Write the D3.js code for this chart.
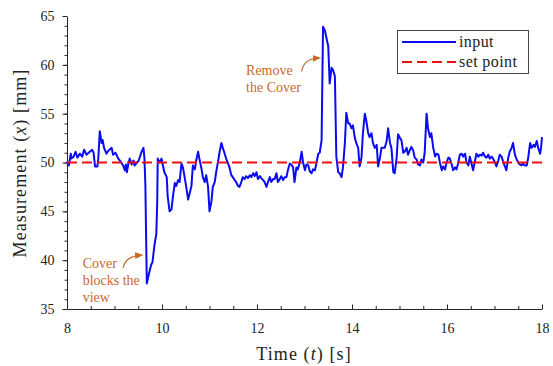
<!DOCTYPE html>
<meta charset="utf-8">
<title>Measurement vs time</title>
<style>
body { margin: 0; background: #fff; }
svg text { font-family: "Liberation Serif", "DejaVu Serif", serif; fill: #222; }
</style>
<svg width="553" height="366"></svg>
<script src="https://d3js.org/d3.v7.min.js"></script>
<script>

// time stamps [s]
var times = [
  8.00,8.04,8.08,8.09,8.14,8.18,8.22,8.27,8.32,8.36,
  8.41,8.48,8.53,8.56,8.59,8.64,8.66,8.69,8.73,8.75,
  8.78,8.83,8.87,8.94,8.97,9.02,9.08,9.13,9.18,9.22,
  9.24,9.26,9.29,9.32,9.36,9.40,9.42,9.46,9.51,9.57,
  9.61,9.63,9.65,9.68,9.72,9.77,9.80,9.84,9.88,9.90,
  9.91,9.95,9.99,10.02,10.05,10.10,10.12,10.16,10.20,10.23,
  10.27,10.30,10.34,10.37,10.41,10.44,10.48,10.51,10.55,10.58,
  10.62,10.65,10.69,10.72,10.76,10.79,10.83,10.86,10.90,10.93,
  10.97,11.00,11.04,11.07,11.11,11.14,11.18,11.21,11.25,11.28,
  11.32,11.35,11.39,11.42,11.46,11.49,11.53,11.56,11.60,11.63,
  11.67,11.70,11.74,11.77,11.81,11.85,11.88,11.92,11.95,11.99,
  12.02,12.06,12.09,12.13,12.16,12.20,12.23,12.27,12.30,12.34,
  12.37,12.41,12.44,12.48,12.51,12.55,12.58,12.62,12.65,12.69,
  12.72,12.76,12.79,12.83,12.86,12.90,12.94,12.97,13.01,13.04,
  13.08,13.11,13.15,13.18,13.22,13.25,13.29,13.32,13.36,13.39,
  13.43,13.46,13.50,13.53,13.57,13.60,13.64,13.67,13.71,13.74,
  13.78,13.81,13.85,13.88,13.92,13.95,13.99,14.02,14.06,14.09,
  14.13,14.16,14.20,14.23,14.27,14.30,14.34,14.37,14.41,14.44,
  14.48,14.52,14.55,14.59,14.62,14.66,14.69,14.73,14.76,14.80,
  14.83,14.87,14.90,14.94,14.97,15.01,15.04,15.08,15.11,15.15,
  15.18,15.22,15.25,15.29,15.32,15.36,15.39,15.43,15.46,15.50,
  15.53,15.57,15.60,15.64,15.67,15.71,15.75,15.78,15.82,15.85,
  15.89,15.92,15.96,15.99,16.03,16.06,16.10,16.13,16.17,16.20,
  16.24,16.27,16.31,16.34,16.38,16.41,16.45,16.48,16.52,16.55,
  16.59,16.62,16.66,16.69,16.73,16.76,16.80,16.83,16.87,16.90,
  16.94,16.97,17.01,17.04,17.08,17.11,17.15,17.18,17.22,17.25,
  17.29,17.32,17.36,17.39,17.43,17.46,17.50,17.53,17.57,17.60,
  17.64,17.68,17.71,17.75,17.78,17.82,17.85,17.89,17.92,17.96,
  17.98,18.00
];

// measured position [mm]
var input = [
  50.1,49.7,50.9,50.4,50.6,51.1,50.5,50.9,50.6,51.3,
  50.8,51.1,51.3,51.0,49.6,49.6,50.5,53.2,52.0,52.3,
  51.5,50.9,51.2,51.5,50.8,51.0,50.4,50.1,49.7,49.2,
  49.8,49.0,49.8,50.4,49.8,50.2,49.7,49.9,50.2,51.1,
  51.5,50.5,47.7,37.6,38.5,39.5,39.8,41.5,42.7,46.0,
  50.4,50.0,50.4,49.7,49.0,48.5,46.5,45.0,45.2,46.5,
  47.9,47.6,48.2,48.0,49.9,49.5,48.4,47.5,46.2,46.8,
  47.6,49.7,49.3,50.2,51.1,50.3,49.4,48.5,48.0,48.7,
  47.5,45.0,46.0,47.5,48.0,49.0,50.1,51.0,52.0,51.5,
  50.9,50.4,49.9,49.5,48.7,48.5,48.2,48.0,47.6,47.5,
  48.0,48.5,48.3,48.6,48.4,48.7,48.5,48.9,48.6,49.0,
  48.3,48.6,48.4,48.2,48.0,47.5,48.0,48.5,48.0,48.3,
  48.3,48.9,48.0,48.3,48.6,48.2,48.5,48.5,49.2,49.9,
  49.8,49.5,48.0,49.5,49.3,50.0,51.1,50.0,49.2,49.8,
  49.7,49.1,48.9,49.3,49.2,49.9,50.9,51.0,52.3,63.9,
  63.5,62.8,61.9,58.1,59.7,59.5,58.8,50.6,49.0,48.9,
  48.5,49.5,52.0,55.1,54.0,54.0,53.5,53.8,52.5,52.0,
  51.5,49.6,50.5,53.0,55.0,54.3,53.0,52.6,53.0,52.0,
  51.5,51.8,49.6,50.5,51.5,51.5,51.5,52.2,53.5,52.0,
  51.5,49.0,48.9,50.5,52.9,52.5,52.3,51.0,51.1,51.5,
  50.8,51.3,51.6,51.2,50.5,50.3,49.8,49.7,50.3,50.0,
  51.0,55.0,53.5,52.6,53.0,51.5,50.6,50.9,50.8,50.0,
  49.2,49.6,49.3,50.0,50.5,50.4,49.8,49.2,49.5,49.3,
  50.0,50.8,50.9,50.6,50.9,50.0,49.7,50.6,49.8,49.2,
  50.2,50.9,50.6,50.8,50.7,51.0,50.6,50.5,50.8,50.4,
  50.6,50.4,50.0,49.6,50.2,50.8,50.6,50.1,49.6,49.2,
  50.5,51.1,51.5,52.0,50.8,50.4,50.0,49.8,49.7,49.9,
  49.7,49.7,50.5,52.0,51.5,51.8,51.6,52.2,51.5,50.9,
  51.5,52.6
];

var setPointTimes = [8, 18];
var setPointValues = [50, 50];

var xTicks = [8, 10, 12, 14, 16, 18];
var xMinorTicks = d3.range(8, 18.01, 0.5);
var yTicks = [35, 40, 45, 50, 55, 60, 65];
var yMinorTicks = d3.range(35, 65.01, 1);

var svg = d3.select("svg");

var x = d3.scaleLinear().domain([8, 18]).range([67, 542]),
    y = d3.scaleLinear().domain([35, 65]).range([309, 16]);

// axes -----------------------------------------------------------
function styleAxis(g) {
  g.attr("font-size", 14);
  g.select(".domain").attr("stroke", "#262626");
  g.selectAll(".tick line").attr("stroke", "#262626");
  g.selectAll(".tick text").attr("fill", "#222");
}

svg.append("g")
    .attr("transform", "translate(0,309)")
    .call(d3.axisBottom(x).tickValues(xMinorTicks).tickSize(-3).tickSizeOuter(0).tickFormat(""))
    .call(function(g) { g.select(".domain").remove(); g.selectAll(".tick line").attr("stroke", "#262626"); });

svg.append("g")
    .attr("transform", "translate(0,309)")
    .call(d3.axisBottom(x).tickValues(xTicks).tickSize(-4.5).tickSizeOuter(0).tickPadding(14.5))
    .call(styleAxis);

svg.append("g")
    .attr("transform", "translate(67,0)")
    .call(d3.axisLeft(y).tickValues(yMinorTicks).tickSize(2.5).tickSizeOuter(0).tickFormat(""))
    .call(function(g) { g.select(".domain").remove(); g.selectAll(".tick line").attr("stroke", "#262626"); });

svg.append("g")
    .attr("transform", "translate(67,0)")
    .call(d3.axisLeft(y).tickValues(yTicks).tickSize(4.5).tickSizeOuter(0).tickPadding(8))
    .call(styleAxis);

// axis titles
var xt = svg.append("text")
    .attr("x", 304).attr("y", 360)
    .attr("text-anchor", "middle")
    .attr("font-size", 18)
    .style("letter-spacing", "1.1px");
xt.append("tspan").text("Time (");
xt.append("tspan").attr("font-style", "italic").text("t");
xt.append("tspan").text(") [s]");

var yt = svg.append("text")
    .attr("transform", "translate(26,163) rotate(-90)")
    .attr("text-anchor", "middle")
    .attr("font-size", 18)
    .style("letter-spacing", "1.1px");
yt.append("tspan").text("Measurement (");
yt.append("tspan").attr("font-style", "italic").text("x");
yt.append("tspan").text(") [mm]");

// data lines -----------------------------------------------------
var pts = d3.zip(times, input);
var line = d3.line().x(function(d) { return x(d[0]); }).y(function(d) { return y(d[1]); });

svg.append("path")
    .datum(pts)
    .attr("fill", "none")
    .attr("stroke", "#0a0af5")
    .attr("stroke-width", 2)
    .attr("stroke-linejoin", "round")
    .attr("d", line);

svg.append("path")
    .datum(d3.zip(setPointTimes, setPointValues))
    .attr("fill", "none")
    .attr("stroke", "#f01010")
    .attr("stroke-width", 2)
    .attr("stroke-dasharray", "10,5")
    .attr("d", line);

// legend ---------------------------------------------------------
var lg = svg.append("g");
lg.append("rect")
    .attr("x", 397.5).attr("y", 30.5)
    .attr("width", 131).attr("height", 43)
    .attr("fill", "#fff").attr("stroke", "#444").attr("stroke-width", 1);
lg.append("line")
    .attr("x1", 402).attr("x2", 456).attr("y1", 42).attr("y2", 42)
    .attr("stroke", "#0a0af5").attr("stroke-width", 2);
lg.append("line")
    .attr("x1", 402).attr("x2", 456).attr("y1", 62).attr("y2", 62)
    .attr("stroke", "#f01010").attr("stroke-width", 2)
    .attr("stroke-dasharray", "10,5");
lg.append("text").attr("x", 459).attr("y", 47).attr("font-size", 16)
    .style("letter-spacing", "0.4px").text("input");
lg.append("text").attr("x", 459).attr("y", 67).attr("font-size", 16)
    .style("letter-spacing", "0.4px").text("set point");

// annotations ----------------------------------------------------
var orange = "#c8692a";
svg.append("defs").append("marker")
    .attr("id", "head")
    .attr("viewBox", "0 0 10 10")
    .attr("refX", 6).attr("refY", 5)
    .attr("markerWidth", 7).attr("markerHeight", 7)
    .attr("orient", "auto")
  .append("path")
    .attr("d", "M0,1 L10,5 L0,9 Z")
    .attr("fill", orange);

var notes = [
  {lines: ["Remove", "the Cover"], t: 11.77, v: 58.96,
   arrow: [[12.94, 59.3], [12.98, 60.6], [13.28, 60.7]]},
  {lines: ["Cover", "blocks the", "view"], t: 8.33, v: 39.18,
   arrow: [[9.18, 39.2], [9.23, 40.4], [9.54, 40.5]]}
];

notes.forEach(function(n) {
  var txt = svg.append("text")
      .attr("x", x(n.t)).attr("y", y(n.v))
      .attr("font-size", 14)
      .style("fill", orange);
  n.lines.forEach(function(s, i) {
    txt.append("tspan").attr("x", x(n.t)).attr("dy", i === 0 ? 0 : 16.7).text(s);
  });
  var a = n.arrow;
  svg.append("path")
      .attr("d", "M" + x(a[0][0]) + "," + y(a[0][1]) +
                 "Q" + x(a[1][0]) + "," + y(a[1][1]) + " " + x(a[2][0]) + "," + y(a[2][1]))
      .attr("fill", "none")
      .attr("stroke", orange)
      .attr("stroke-width", 1.2)
      .attr("marker-end", "url(#head)");
});

</script>
